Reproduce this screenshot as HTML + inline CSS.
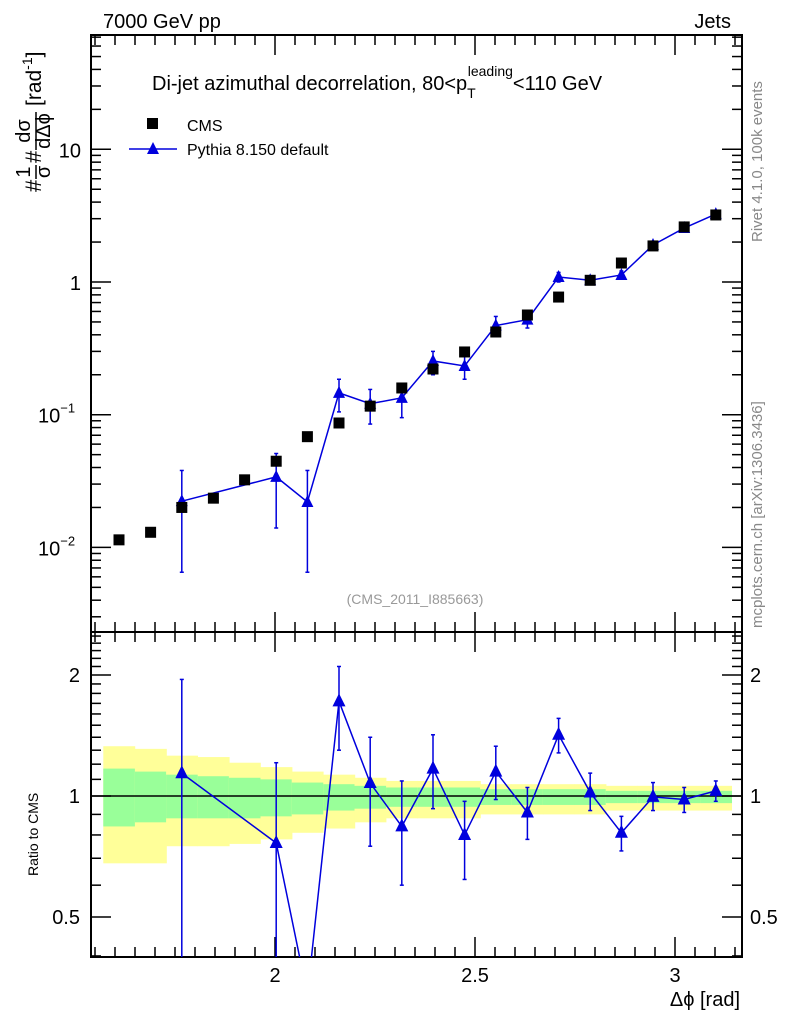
<!DOCTYPE html>
<html><head><meta charset="utf-8"><style>
html,body{margin:0;padding:0;background:#fff;width:786px;height:1024px;overflow:hidden;position:relative;}
svg{display:block;font-family:"Liberation Sans",sans-serif;}
</style></head><body>
<svg id="c" width="786" height="1024" style="position:absolute;left:0;top:0" xmlns="http://www.w3.org/2000/svg"></svg>
<script>
const binCenters=[1.610,1.689,1.767,1.846,1.924,2.003,2.081,2.160,2.238,2.317,2.395,2.474,2.552,2.631,2.709,2.788,2.866,2.945,3.023,3.102];
const cmsValues=[0.0114,0.0130,0.0200,0.0235,0.0323,0.0446,0.0683,0.0866,0.116,0.159,0.221,0.297,0.42,0.564,0.77,1.03,1.39,1.87,2.6,3.2];
const pyX=[1.767,2.003,2.081,2.160,2.238,2.317,2.395,2.474,2.552,2.631,2.709,2.788,2.866,2.945,3.023,3.102];
const pyValues=[0.0223,0.034,0.022,0.146,0.121,0.134,0.254,0.233,0.47,0.52,1.09,1.03,1.13,1.9,2.55,3.25];
const pyErrLo=[0.0065,0.014,0.0065,0.105,0.085,0.095,0.2,0.185,0.40,0.45,1.0,0.97,1.05,1.8,2.45,3.1];
const pyErrHi=[0.038,0.051,0.038,0.185,0.155,0.17,0.3,0.28,0.55,0.58,1.18,1.09,1.21,2.0,2.65,3.4];
const ratioValues=[1.139,0.764,0.32,1.72,1.077,0.84,1.17,0.80,1.15,0.91,1.42,1.02,0.81,0.995,0.98,1.03];
const ratioErrLo=[0.2,0.2,0.1,1.3,0.75,0.6,0.93,0.62,0.98,0.78,1.28,0.92,0.73,0.92,0.91,0.97];
const ratioErrHi=[1.95,1.21,0.33,2.1,1.40,1.09,1.42,0.97,1.33,1.05,1.56,1.14,0.89,1.08,1.05,1.09];
const yelHi=[1.33,1.31,1.26,1.25,1.21,1.18,1.15,1.13,1.11,1.09,1.09,1.09,1.07,1.07,1.07,1.07,1.06,1.06,1.06,1.06];
const yelLo=[0.68,0.68,0.75,0.75,0.76,0.78,0.81,0.83,0.86,0.88,0.88,0.88,0.90,0.90,0.90,0.90,0.92,0.92,0.92,0.92];
const grnHi=[1.17,1.15,1.13,1.12,1.11,1.10,1.08,1.07,1.06,1.05,1.05,1.05,1.04,1.04,1.04,1.04,1.03,1.03,1.03,1.03];
const grnLo=[0.84,0.86,0.88,0.88,0.88,0.89,0.90,0.92,0.93,0.94,0.94,0.94,0.95,0.95,0.95,0.95,0.96,0.96,0.96,0.96];
const xTicks=[2,2.5,3];
const mainYTicks=[0.01,0.1,1,10];
const ratioYTicks=[0.5,1,2];

const S=document.getElementById('c');
const NS='http://www.w3.org/2000/svg';
function el(t,a,p){const e=document.createElementNS(NS,t);for(const k in a)e.setAttribute(k,a[k]);(p||S).appendChild(e);return e;}
const L=91,R=742,T1=35,B1=632,T2=632,B2=957;
const X=v=>275+(v-2)*400;
const Y1=v=>282-Math.log10(v)*132.7;
const Y2=v=>796-Math.log2(v)*121;
const bw=Math.PI/40;

const bands=el('g',{});

binCenters.forEach((c,i)=>{
 const x0=X(c-bw/2),x1=X(c+bw/2);
 const r1=el('rect',{x:x0,y:Y2(yelHi[i]),width:x1-x0+0.5,height:Y2(yelLo[i])-Y2(yelHi[i]),fill:'#ffff99'},bands);
 
 const r2=el('rect',{x:x0,y:Y2(grnHi[i]),width:x1-x0+0.5,height:Y2(grnLo[i])-Y2(grnHi[i]),fill:'#99ff99'},bands);
 
});
const one=el('line',{x1:L,x2:R,y1:Y2(1),y2:Y2(1),stroke:'#000','stroke-width':1.5});


[[T1,B1],[T2,B2]].forEach(([t,b],k)=>{
 const r=el('rect',{x:L,y:t,width:R-L,height:b-t,fill:'none',stroke:'#000','stroke-width':2});
 
});
for(let v=1.55;v<3.17;v+=0.05){
 const vv=Math.round(v*100)/100;const major=Math.abs(vv*2-Math.round(vv*2))<1e-6;
 const len=major?20:10;const x=X(vv);
 [[T1,1],[B1,-1],[T2,1],[B2,-1]].forEach(([y,d])=>el('line',{x1:x,x2:x,y1:y,y2:y+d*len,stroke:'#000','stroke-width':1.5}));
}
xTicks.forEach(v=>{const t=el('text',{x:X(v),y:982,'font-size':20,'text-anchor':'middle'});t.textContent=String(v);
 });
for(let e=-3;e<=1;e++)for(let m=1;m<10;m++){
 const v=m*Math.pow(10,e);const y=Y1(v);if(y<T1||y>B1)continue;
 const len=m==1?20:10;
 el('line',{x1:L,x2:L+len,y1:y,y2:y,stroke:'#000','stroke-width':1.5});
 el('line',{x1:R,x2:R-len,y1:y,y2:y,stroke:'#000','stroke-width':1.5});
}
const mLabels=[['10',''],['1',''],['10','−1'],['10','−2']];
[10,1,0.1,0.01].forEach((v,i)=>{
 const t=el('text',{x:i>=2?38:81,y:Y1(v)+8,'font-size':20,'text-anchor':'start'});
 if(i<2)t.setAttribute('text-anchor','end');
 
 if(i>=2){t.textContent='10';const s=el('tspan',{dy:-10,'font-size':13},t);s.textContent=mLabels[i][1];}
 else t.textContent=mLabels[i][0];
});
for(let v=0.4;v<=2.55;v+=0.1){
 const vv=Math.round(v*10)/10;const y=Y2(vv);if(y<T2||y>B2)continue;
 const major=ratioYTicks.includes(vv);const len=major?20:10;
 el('line',{x1:L,x2:L+len,y1:y,y2:y,stroke:'#000','stroke-width':1.5});
 el('line',{x1:R,x2:R-len,y1:y,y2:y,stroke:'#000','stroke-width':1.5});
}
ratioYTicks.forEach(v=>{
 const t=el('text',{x:80,y:Y2(v)+7,'font-size':20,'text-anchor':'end'});t.textContent=String(v);
 
 const t2=el('text',{x:750,y:Y2(v)+7,'font-size':20});t2.textContent=String(v);
 
});

const pg=el('g',{});

el('polyline',{points:pyX.map((x,i)=>X(x)+','+Y1(pyValues[i])).join(' '),fill:'none',stroke:'#0000dd','stroke-width':1.5},pg);
pyX.forEach((x,i)=>{
 const cx=X(x);
 el('line',{x1:cx,x2:cx,y1:Y1(pyErrLo[i]),y2:Y1(pyErrHi[i]),stroke:'#0000dd','stroke-width':1.5},pg);
 el('line',{x1:cx-2,x2:cx+2,y1:Y1(pyErrLo[i]),y2:Y1(pyErrLo[i]),stroke:'#0000dd','stroke-width':1.5},pg);
 el('line',{x1:cx-2,x2:cx+2,y1:Y1(pyErrHi[i]),y2:Y1(pyErrHi[i]),stroke:'#0000dd','stroke-width':1.5},pg);
});
binCenters.forEach((x,i)=>{
 const r=el('rect',{x:X(x)-5.5,y:Y1(cmsValues[i])-5.5,width:11,height:11,fill:'#000'});
 
});
pyX.forEach((x,i)=>{
 const cx=X(x),cy=Y1(pyValues[i]);
 const p=el('polygon',{points:`${cx},${cy-7} ${cx-6},${cy+5} ${cx+6},${cy+5}`,fill:'#0000dd'},pg);
 
});

const defs=el('defs',{});
const cp=el('clipPath',{id:'rc'},defs);el('rect',{x:L,y:T2,width:R-L,height:B2-T2},cp);
const rg=el('g',{'clip-path':'url(#rc)'});

el('polyline',{points:pyX.map((x,i)=>X(x)+','+Y2(ratioValues[i])).join(' '),fill:'none',stroke:'#0000dd','stroke-width':1.5},rg);
pyX.forEach((x,i)=>{
 const cx=X(x);
 if(ratioErrHi[i]>ratioValues[i]+0.02){
  el('line',{x1:cx,x2:cx,y1:Y2(ratioErrLo[i]),y2:Y2(ratioErrHi[i]),stroke:'#0000dd','stroke-width':1.5},rg);
  [ratioErrLo[i],ratioErrHi[i]].forEach(v=>el('line',{x1:cx-2,x2:cx+2,y1:Y2(v),y2:Y2(v),stroke:'#0000dd','stroke-width':1.5},rg));
 }
 const cy=Y2(ratioValues[i]);
 const p=el('polygon',{points:`${cx},${cy-8} ${cx-6.5},${cy+5} ${cx+6.5},${cy+5}`,fill:'#0000dd'},rg);
 
});
</script>
<svg width="786" height="1024" style="position:absolute;left:0;top:0" xmlns="http://www.w3.org/2000/svg">
 <text x="103" y="28" font-size="20">7000 GeV pp</text>
 <text x="731" y="28" font-size="20" text-anchor="end">Jets</text>
 <text x="152" y="90" font-size="20">Di-jet azimuthal decorrelation, 80&lt;p<tspan dy="8" font-size="14">T</tspan><tspan dy="-22" dx="-8" font-size="14">leading</tspan><tspan dy="14">&lt;110 GeV</tspan></text>
 <rect x="147" y="118" width="11" height="11" fill="#000"/>
 <text x="187" y="131" font-size="16">CMS</text>
 <line x1="129" x2="177" y1="149" y2="149" stroke="#0000dd" stroke-width="1.5"/>
 <polygon points="153,142 147,154 159,154" fill="#0000dd"/>
 <text x="187" y="155" font-size="16">Pythia 8.150 default</text>
 <text x="415" y="604" font-size="14" fill="#999" text-anchor="middle">(CMS_2011_I885663)</text>
 <text x="740" y="1006" font-size="20" text-anchor="end">Δϕ [rad]</text>
 <g transform="translate(36,192) rotate(-90)" font-size="22">
  <text x="0" y="5">#</text>
  <text x="20" y="-6" text-anchor="middle" font-size="20">1</text>
  <line x1="13" x2="27" y1="0" y2="0" stroke="#000" stroke-width="1.5"/>
  <text x="20" y="14" text-anchor="middle" font-size="20">σ</text>
  <text x="29" y="5">#</text>
  <text x="61" y="-6" text-anchor="middle" font-size="20">dσ</text>
  <line x1="42" x2="80" y1="0" y2="0" stroke="#000" stroke-width="1.5"/>
  <text x="61" y="14" text-anchor="middle" font-size="20">dΔϕ</text>
  <text x="86" y="5" font-size="21">[rad<tspan dy="-9" font-size="14">-1</tspan><tspan dy="9">]</tspan></text>
 </g>
 <text transform="translate(38,876) rotate(-90)" font-size="14">Ratio to CMS</text>
 <text transform="translate(762,242) rotate(-90)" font-size="15" fill="#888">Rivet 4.1.0,  100k events</text>
 <text transform="translate(762,628) rotate(-90)" font-size="15" fill="#888">mcplots.cern.ch [arXiv:1306.3436]</text>
</svg>
</body></html>
